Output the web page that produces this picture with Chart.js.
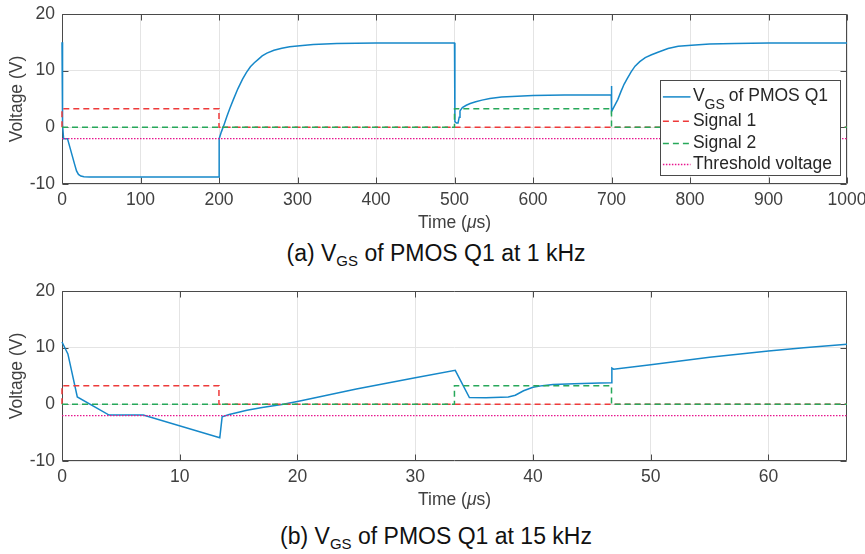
<!DOCTYPE html>
<html>
<head>
<meta charset="utf-8">
<script src="https://cdn.jsdelivr.net/npm/chart.js@4.4.0/dist/chart.umd.min.js"></script>
<style>
  body { margin: 0; background: #fff; width: 865px; height: 554px; position: relative; overflow: hidden;
         font-family: "Liberation Sans", Arial, sans-serif; }
  canvas { position: absolute; left: 0; }
  .cap { position: absolute; left: 136px; width: 600px; text-align: center; font-size: 23px; line-height: 23px; color: #111; }
  .cap sub { font-size: 15px; vertical-align: -5px; line-height: 0; }
</style>
</head>
<body>
<canvas id="c1" width="865" height="235" style="top:0"></canvas>
<div class="cap" style="top:242px">(a) V<sub>GS</sub> of PMOS Q1 at 1 kHz</div>
<canvas id="c2" width="865" height="235" style="top:277px"></canvas>
<div class="cap" style="top:525px">(b) V<sub>GS</sub> of PMOS Q1 at 15 kHz</div>
<script>
// ---- (a) 1 kHz ----
const tA = [0, 0.4, 1, 2, 7, 10, 13, 16, 18.5, 21, 24, 28, 35, 200,
  200.2, 203, 206, 210, 214, 218, 224, 230, 235, 240, 245, 250, 255, 261, 270, 280, 290, 303, 320, 350, 400, 500,
  500.5, 502.5, 504.5, 506, 507, 510, 515, 520, 527, 535, 545, 560, 580, 600, 640, 699.7,
  700, 700.2, 702, 705, 708, 712, 716, 720, 725, 730, 736, 743, 751, 760, 772, 785, 802, 825, 857, 900, 1000];
const vgsA = [15, 3, 0.5, -2, -2, -3.5, -5, -6.5, -7.7, -8.3, -8.6, -8.7, -8.75, -8.75,
  -2, -0.8, 0.3, 1.9, 3.4, 4.8, 6.8, 8.5, 9.7, 10.7, 11.4, 12, 12.6, 13.1, 13.6, 13.95, 14.2, 14.4, 14.6, 14.8, 14.9, 14.9,
  1.0, 0.75, 0.75, 1.8, 2.9, 3.5, 3.9, 4.2, 4.5, 4.8, 5.1, 5.35, 5.5, 5.6, 5.7, 5.75,
  7.3, 2.8, 3.3, 4.1, 4.9, 6.3, 7.6, 8.6, 9.8, 10.8, 11.6, 12.3, 12.8, 13.3, 13.9, 14.3, 14.5, 14.7, 14.8, 14.9, 14.9];
const sig1TA = [0, 0, 200, 200, 1000];
const sig1VA = [0, 3.3, 3.3, 0, 0];
const sig2TA = [0, 500, 500, 700, 700, 1000];
const sig2VA = [0, 0, 3.3, 3.3, 0, 0];
const thrTA = [0, 1000];
const thrVA = [-2, -2];
const xTicksA = [0, 100, 200, 300, 400, 500, 600, 700, 800, 900, 1000];

// ---- (b) 15 kHz ----
const tB = [0, 0.5, 1.3, 4.0, 6.9, 13.4, 13.6, 14.2, 15, 15.7, 17, 18.8, 20.2, 25, 30, 33.4,
  34.6, 36, 37.9, 38.5, 39.2, 40, 40.8, 41.7, 43.5, 45.7, 46.65, 46.7, 46.85, 50, 55, 60, 63, 66.67];
const vgsB = [11.0, 8.9, 1.3, -1.9, -1.9, -5.9, -2.2, -1.8, -1.4, -1.06, -0.55, 0, 0.6, 2.7, 4.7, 6.0,
  1.2, 1.15, 1.3, 1.6, 2.4, 3.0, 3.3, 3.5, 3.65, 3.75, 3.8, 6.4, 6.2, 7.0, 8.3, 9.4, 10.0, 10.6];
const sig1TB = [0, 0, 13.33, 13.33, 66.67];
const sig1VB = [0, 3.3, 3.3, 0, 0];
const sig2TB = [0, 33.33, 33.33, 46.67, 46.67, 66.67];
const sig2VB = [0, 0, 3.3, 3.3, 0, 0];
const thrTB = [0, 66.67];
const thrVB = [-2, -2];
const xTicksB = [0, 10, 20, 30, 40, 50, 60];

const yTicks = [-10, 0, 10, 20];
const legendLabels = ['of PMOS Q1', 'Signal 1', 'Signal 2', 'Threshold voltage'];

const blue = '#1688c9', red = '#ee3a3a', green = '#27a85a', magenta = '#e8158e';
const textColor = '#404040', frameColor = '#4a4a4a', gridColor = '#e4e4e4';
const FAM = '"Liberation Sans", Arial, sans-serif';

function pts(t, v) { return t.map((x, i) => ({x: x, y: v[i]})); }

// MATLAB-like axes: box and inward ticks under the data, legend on top
const axesBox = {
  id: 'axesBox',
  beforeDatasetsDraw(chart) {
    const {ctx, chartArea: a, scales: {x, y}} = chart;
    const L = Math.round(a.left) + 0.5, R = Math.round(a.right) - 0.5;
    const T = Math.round(a.top) + 0.5, B = Math.round(a.bottom) - 0.5;
    ctx.save();
    ctx.strokeStyle = frameColor;
    ctx.lineWidth = 1;
    ctx.beginPath();
    ctx.rect(L, T, R - L, B - T);
    x.ticks.forEach(t => {
      const p = Math.round(x.getPixelForValue(t.value)) + 0.5;
      ctx.moveTo(p, B); ctx.lineTo(p, B - 6);
      ctx.moveTo(p, T); ctx.lineTo(p, T + 6);
    });
    y.ticks.forEach(t => {
      const p = Math.round(y.getPixelForValue(t.value)) + 0.5;
      ctx.moveTo(L, p); ctx.lineTo(L + 6, p);
      ctx.moveTo(R, p); ctx.lineTo(R - 6, p);
    });
    ctx.stroke();

    // axis titles
    ctx.fillStyle = textColor;
    ctx.textBaseline = 'alphabetic';
    const parts = [['Time (', ''], ['\u03bc', 'italic '], ['s)', '']];
    let w = 0;
    parts.forEach(p => { ctx.font = p[1] + '17.5px ' + FAM; w += ctx.measureText(p[0]).width; });
    let cx = (a.left + a.right) / 2 - w / 2;
    ctx.textAlign = 'left';
    parts.forEach(p => {
      ctx.font = p[1] + '17.5px ' + FAM;
      ctx.fillText(p[0], cx, a.bottom + 43.8);
      cx += ctx.measureText(p[0]).width;
    });
    ctx.translate(17.5, (a.top + a.bottom) / 2);
    ctx.rotate(-Math.PI / 2);
    ctx.font = '17.5px ' + FAM;
    ctx.textAlign = 'center';
    ctx.textBaseline = 'middle';
    ctx.fillText('Voltage (V)', 0, 0);
    ctx.restore();
  },
  afterDatasetsDraw(chart, args, opts) {
    if (!opts.legend) return;
    const {ctx, chartArea: a} = chart;
    ctx.save();
    const bx = Math.round(a.right - 187.4) + 0.5, by = Math.round(a.top + 66.3) + 0.5, bw = 180, bh = 95;
    ctx.fillStyle = '#fff';
    ctx.fillRect(bx, by, bw, bh);
    ctx.strokeStyle = frameColor;
    ctx.lineWidth = 1;
    ctx.strokeRect(bx, by, bw, bh);
    const rows = [16.4, 40.7, 63, 84];
    chart.data.datasets.forEach((ds, i) => {
      const ry = by + rows[i];
      ctx.save();
      ctx.strokeStyle = ds.borderColor;
      ctx.lineWidth = ds.borderWidth;
      ctx.setLineDash(ds.borderDash || []);
      ctx.beginPath();
      ctx.moveTo(bx + 2.4, ry); ctx.lineTo(bx + 30, ry);
      ctx.stroke();
      ctx.restore();
      ctx.fillStyle = '#262626';
      ctx.textAlign = 'left';
      ctx.textBaseline = 'middle';
      let tx = bx + 32.4;
      if (i === 0) {
        ctx.font = '17.5px ' + FAM;
        ctx.fillText('V', tx, ry - 1);
        tx += ctx.measureText('V').width;
        ctx.font = '14px ' + FAM;
        ctx.fillText('GS', tx, ry + 8);
        tx += ctx.measureText('GS').width + 4;
        ctx.font = '17.5px ' + FAM;
        ctx.fillText(legendLabels[0], tx, ry - 1);
      } else {
        ctx.font = '17.5px ' + FAM;
        ctx.fillText(legendLabels[i], tx, ry);
      }
    });
    ctx.restore();
  }
};

function makeChart(id, xMax, xTicks, s, showLegend) {
  return new Chart(document.getElementById(id).getContext('2d'), {
    type: 'line',
    data: {
      datasets: [
        {label: 'VGS of PMOS Q1', data: pts(s.t, s.v), borderColor: blue, borderWidth: 1.5, order: 4, clip: 3},
        {label: 'Signal 1', data: pts(s.s1t, s.s1v), borderColor: red, borderWidth: 1.5, borderDash: [6, 4], order: 3, clip: 3},
        {label: 'Signal 2', data: pts(s.s2t, s.s2v), borderColor: green, borderWidth: 1.5, borderDash: [6, 4], order: 2, clip: 3},
        {label: 'Threshold voltage', data: pts(s.tht, s.thv), borderColor: magenta, borderWidth: 1.3, borderDash: [1.5, 1.5], order: 1, clip: 3}
      ]
    },
    options: {
      responsive: false,
      animation: false,
      layout: {padding: {top: 14, right: 18, left: 0, bottom: 0}},
      elements: {point: {radius: 0}, line: {tension: 0, fill: false}},
      plugins: {legend: {display: false}, tooltip: {enabled: false}, axesBox: {legend: showLegend}},
      scales: {
        x: {
          type: 'linear', min: 0, max: xMax,
          afterBuildTicks(sc) { sc.ticks = xTicks.map(v => ({value: v})); },
          afterFit(sc) { sc.height = 51; sc.paddingLeft = 0; sc.paddingRight = 0; },
          grid: {color: gridColor, drawTicks: false},
          border: {display: false},
          ticks: {padding: 6, color: textColor, font: {family: FAM, size: 17.5}, maxRotation: 0, autoSkip: false,
                  callback: v => String(v)}
        },
        y: {
          type: 'linear', min: -10, max: 20,
          afterBuildTicks(sc) { sc.ticks = yTicks.map(v => ({value: v})); },
          afterFit(sc) { sc.width = 62; sc.paddingTop = 0; sc.paddingBottom = 0; },
          grid: {color: gridColor, drawTicks: false},
          border: {display: false},
          ticks: {padding: 7, color: textColor, font: {family: FAM, size: 17.5}, callback: v => String(v)}
        }
      }
    },
    plugins: [axesBox]
  });
}

makeChart('c1', 1000, xTicksA,
  {t: tA, v: vgsA, s1t: sig1TA, s1v: sig1VA, s2t: sig2TA, s2v: sig2VA, tht: thrTA, thv: thrVA}, true);
makeChart('c2', 66.67, xTicksB,
  {t: tB, v: vgsB, s1t: sig1TB, s1v: sig1VB, s2t: sig2TB, s2v: sig2VB, tht: thrTB, thv: thrVB}, false);
</script>
</body>
</html>
